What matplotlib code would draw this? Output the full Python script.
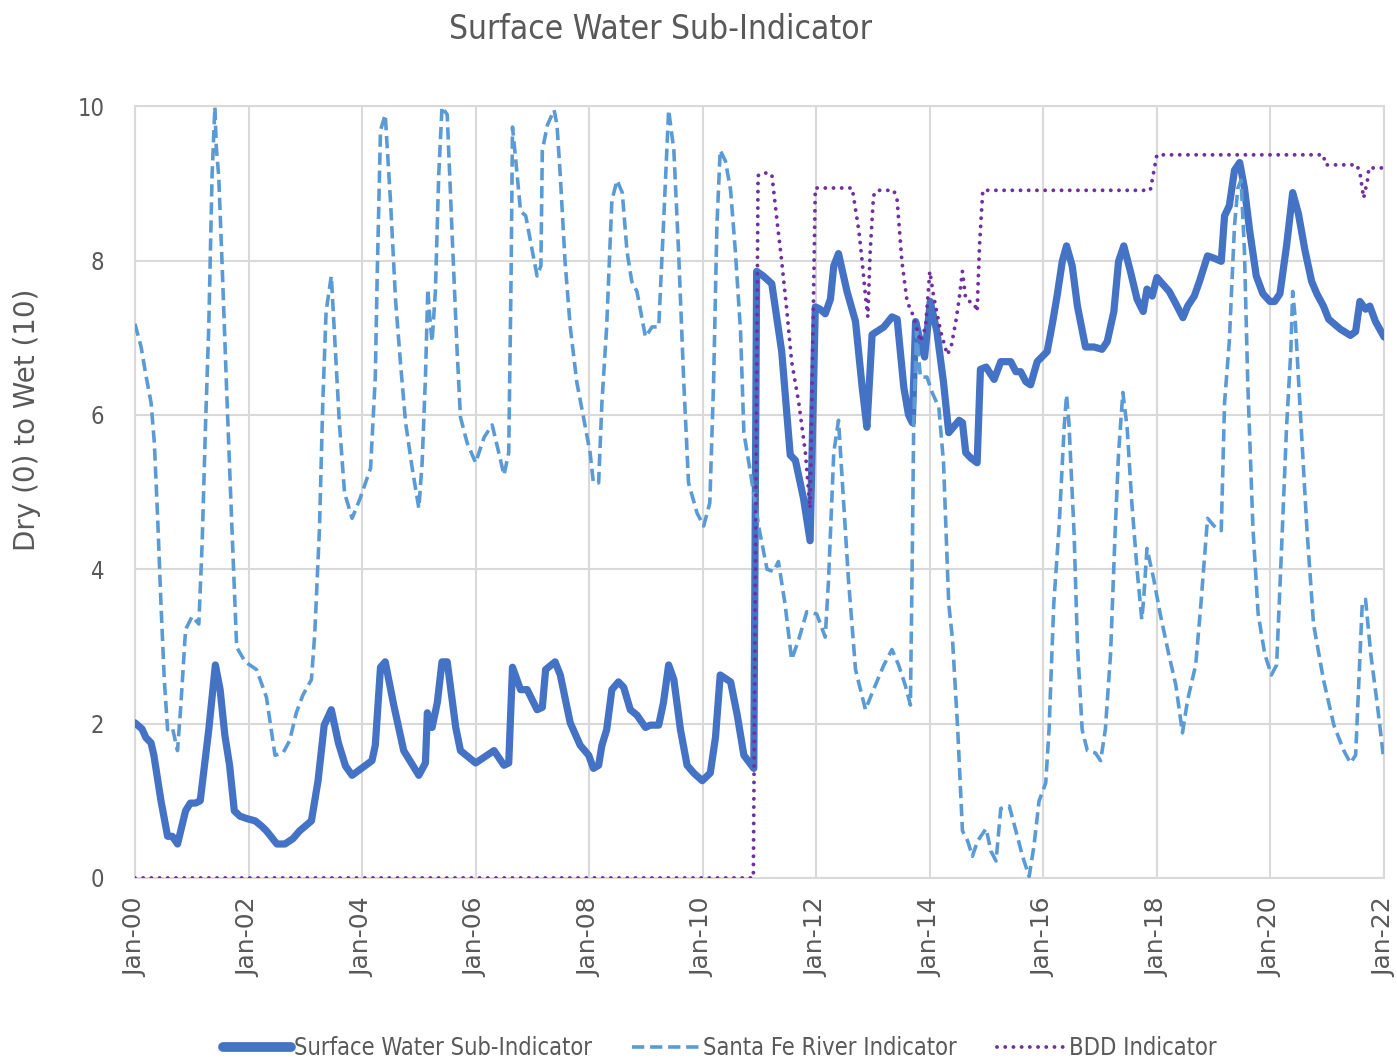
import matplotlib
matplotlib.use("Agg")
import matplotlib.pyplot as plt
import numpy as np

# month index counted from Jan 2000
sw_months = [0, 1.5, 2.3, 3.4, 4, 5.5, 6.9, 7.9, 9, 10.7, 11.7, 12.8, 13.8, 15.6, 17, 18, 19, 20, 21,
             22.2, 23.6, 25.4, 26.8, 27.8, 30, 31.7, 33.4, 34.8, 37.3, 38.7, 40, 41.5, 43, 44.5, 45.9,
             50.1, 50.8, 51.9, 52.9, 54.7, 56.8, 60, 61.4, 61.8, 62.8, 63.9, 64.9, 66, 67.8, 68.8, 72,
             75.9, 78, 79, 79.8, 81.5, 82.9, 85, 86.1, 86.8, 88.8, 89.9, 92, 94.1, 95.9, 96.9, 98, 98.7,
             99.7, 100.8, 102.2, 103.3, 104.7, 106.1, 107.9, 108.9, 110.7, 111.7, 112.8, 113.9, 115.3,
             116.7, 118.1, 119.9, 121.6, 122.7, 123.7, 125.9, 127.3, 128.7, 130.8, 131.4, 132.8, 134.6,
             136.7, 138.5, 139.6, 141.3, 142.7, 143.8, 144.8, 145.9, 147, 147.7, 148.7, 150.5, 152.3,
             153.7, 154.7, 155.8, 158.3, 160, 161.1, 162.5, 163.5, 164.3, 165, 166, 166.9, 168.1, 169.5,
             170.9, 172, 174.2, 174.9, 175.6, 176.7, 178, 178.7, 179.9, 181.6, 183, 185.1, 186.2, 187.2,
             188.3, 189.3, 190.7, 192.8, 193.9, 194.9, 196, 196.9, 198.1, 199.2, 200.9, 202.7, 204.4,
             205.5, 206.9, 207.9, 209, 210.4, 211.8, 213.1, 213.9, 215, 216, 218.6, 220, 221.5, 222.5,
             223.9, 225, 226.7, 228.1, 229.6, 230.3, 231.3, 232.4, 233.5, 234.5, 235.6, 237, 238.4,
             239.9, 240.9, 242, 243.4, 244.7, 245.9, 247.3, 248.7, 249.8, 251.2, 252.3, 254.8, 256.9,
             258, 258.9, 260.1, 261, 262.2, 264]
sw_values = [2.01, 1.93, 1.82, 1.75, 1.59, 1.0, 0.54, 0.54, 0.44, 0.87, 0.97, 0.97, 1.0, 1.92, 2.76, 2.44,
             1.85, 1.46, 0.87, 0.80, 0.77, 0.74, 0.67, 0.61, 0.44, 0.44, 0.51, 0.61, 0.74, 1.26, 1.98,
             2.18, 1.75, 1.45, 1.33, 1.52, 1.72, 2.73, 2.8, 2.24, 1.65, 1.33, 1.49, 2.14, 1.95, 2.27,
             2.8, 2.8, 1.95, 1.65, 1.49, 1.65, 1.46, 1.49, 2.73, 2.44, 2.44, 2.18, 2.21, 2.7, 2.8, 2.63,
             2.01, 1.72, 1.59, 1.42, 1.46, 1.72, 1.92, 2.44, 2.54, 2.47, 2.18, 2.11, 1.95, 1.98, 1.98,
             2.27, 2.76, 2.57, 1.92, 1.46, 1.36, 1.26, 1.36, 1.82, 2.63, 2.54, 2.11, 1.59, 1.42, 7.86,
             7.8, 7.7, 6.82, 5.48, 5.41, 4.92, 4.37, 7.4, 7.37, 7.31, 7.5, 7.93, 8.09, 7.6, 7.21, 6.36,
             5.84, 7.04, 7.14, 7.27, 7.24, 6.36, 6.0, 5.9, 7.21, 6.95, 6.75, 7.47, 7.08, 6.42, 5.77,
             5.93, 5.9, 5.51, 5.44, 5.38, 6.59, 6.62, 6.46, 6.69, 6.69, 6.56, 6.56, 6.43, 6.39, 6.69,
             6.82, 7.18, 7.54, 7.99, 8.19, 7.93, 7.41, 6.88, 6.88, 6.85, 6.95, 7.34, 7.99, 8.19, 7.86,
             7.5, 7.34, 7.63, 7.54, 7.78, 7.6, 7.44, 7.26, 7.41, 7.54, 7.73, 8.06, 8.03, 7.99, 8.58,
             8.71, 9.17, 9.27, 8.94, 8.39, 7.8, 7.57, 7.47, 7.47, 7.57, 8.19, 8.88, 8.61, 8.13, 7.73,
             7.57, 7.41, 7.24, 7.11, 7.03, 7.08, 7.47, 7.37, 7.41, 7.21, 7.01]

sf_months = [0, 1.3, 2.3, 3.4, 4.1, 4.8, 5.5, 6.2, 6.9, 7.9, 9, 9.7, 10.7, 12.1, 13.5, 14.2, 14.9, 15.6,
             16.3, 16.9, 17.2, 17.7, 18.4, 19.4, 20.5, 21.5, 23.3, 25.7, 27.8, 29.6, 31.3, 32.7, 34.1,
             35.5, 37.3, 38, 39, 39.7, 40.4, 41.5, 42.2, 43.2, 44.3, 45.9, 47.6, 49.8, 50.8, 51.2, 51.9,
             52.9, 54, 55.1, 56.1, 57.2, 58.6, 60, 60.7, 61.4, 61.9, 62.3, 62.8, 63.5, 64.2, 64.9, 66,
             67.1, 68.1, 68.8, 70.2, 72, 73.8, 75.5, 76.9, 78, 79, 79.5, 79.8, 80.5, 81.5, 82.6, 84, 85,
             85.8, 86.1, 87.2, 88.6, 89.2, 89.9, 90.9, 92, 93.4, 94.8, 96.2, 96.9, 98, 98.7, 99.7, 100.8,
             101.9, 103, 104, 105, 106.1, 107.9, 109.3, 110.7, 111.7, 112.8, 113.9, 114.9, 116, 117,
             118.8, 120.2, 121.5, 122.3, 123, 123.7, 124.8, 125.9, 126.9, 128, 128.7, 130.1, 132, 133.6,
             135, 136, 137.4, 138.8, 140.3, 142, 144.1, 145.9, 146.6, 147.7, 148.7, 149.8, 150.8, 152.3,
             154.4, 156.1, 158.3, 160, 161.4, 162.8, 163.9, 164.3, 164.6, 165.2, 166, 167.4, 168.5,
             169.9, 170.9, 172, 172.8, 173.9, 174.9, 176, 177, 178.1, 179.9, 180.9, 182, 183, 184.8,
             186.5, 187.6, 189, 190, 191.1, 192.5, 193.2, 194.2, 195.3, 196.4, 196.9, 197.4, 198.5,
             199.2, 200.2, 201.3, 203, 204.1, 205.1, 206.2, 207.2, 207.9, 208.8, 209.7, 210.7, 211.8,
             212.8, 213.2, 213.9, 215.3, 216.7, 218.5, 220, 221.4, 222.5, 224.2, 225.3, 226.7, 228.1,
             229.6, 230.3, 231.3, 232.4, 233.1, 233.8, 234.5, 235.2, 236.3, 237.4, 238.8, 240.2, 241.3,
             242.3, 243.4, 244.3, 244.7, 245.2, 246.2, 247.7, 249.1, 251.2, 253.4, 255.5, 256.9, 258,
             258.7, 259.4, 260.1, 261.2, 262.6, 263.9]
sf_values = [7.18, 6.88, 6.52, 6.16, 5.64, 4.66, 3.55, 2.57, 1.92, 1.95, 1.65, 2.24, 3.22, 3.39, 3.29,
             4.33, 5.84, 7.14, 9.1, 9.99, 9.46, 9.1, 7.99, 6.29, 4.53, 2.99, 2.8, 2.7, 2.34, 1.59, 1.62,
             1.78, 2.14, 2.37, 2.57, 3.16, 4.53, 6.16, 7.34, 7.8, 7.01, 5.9, 4.99, 4.66, 4.92, 5.31,
             6.49, 7.8, 9.69, 9.89, 8.78, 7.47, 6.69, 5.9, 5.31, 4.79, 5.38, 6.49, 7.63, 7.27, 6.95, 7.6,
             9.1, 9.99, 9.89, 8.25, 6.82, 5.97, 5.64, 5.38, 5.71, 5.87, 5.51, 5.22, 5.51, 7.8, 9.73,
             9.29, 8.64, 8.58, 8.12, 7.8, 7.93, 9.43, 9.76, 9.95, 9.76, 9.1, 7.99, 7.14, 6.42, 5.97,
             5.51, 5.12, 5.12, 6.16, 7.14, 8.78, 9.04, 8.88, 8.12, 7.73, 7.6, 7.01, 7.14, 7.14, 8.45,
             9.95, 9.43, 8.12, 6.42, 5.12, 4.73, 4.56, 4.86, 6.42, 8.45, 9.43, 9.29, 8.91, 8.12, 7.08,
             5.77, 5.25, 4.5, 4.0, 3.97, 4.1, 3.55, 2.83, 3.09, 3.45, 3.42, 3.12, 3.87, 5.51, 5.93,
             4.86, 3.87, 2.7, 2.18, 2.44, 2.76, 2.96, 2.76, 2.5, 2.24, 4.2, 5.9, 7.08, 6.49, 6.49, 6.29,
             6.1, 5.38, 3.55, 3.09, 1.92, 0.61, 0.48, 0.28, 0.48, 0.64, 0.35, 0.22, 0.9, 0.93, 0.54,
             0.28, 0.02, 0.41, 1.0, 1.23, 1.92, 3.55, 4.53, 5.84, 6.26, 5.9, 4.46, 3.03, 1.92, 1.65,
             1.62, 1.52, 1.92, 2.9, 4.53, 5.51, 6.29, 5.84, 4.86, 4.0, 3.35, 3.61, 4.27, 3.88, 3.42,
             2.9, 2.5, 1.88, 2.31, 2.76, 3.55, 4.66, 4.56, 4.5, 6.16, 6.95, 8.45, 8.94, 9.04, 8.12,
             6.42, 4.53, 3.42, 2.9, 2.63, 2.76, 4.2, 5.84, 6.82, 7.6, 7.27, 6.16, 4.53, 3.29, 2.57,
             1.98, 1.65, 1.49, 1.59, 2.57, 3.55, 3.61, 2.9, 2.24, 1.56]

bdd_months = [0, 130.7, 131.7, 132.8, 134.6, 135.7, 136.7, 137.8, 138.8, 140.3, 141.7, 142.7, 143.8,
              151.6, 153, 153.7, 154.4, 154.9, 155.4, 156.1, 156.8, 160.4, 161.1, 162.1, 163.2, 164.6,
              166, 167.1, 168, 168.8, 170.3, 171.7, 172.5, 173.5, 174.2, 174.9, 175.6, 176.4, 177.4,
              178, 178.5, 179.2, 214.6, 216, 251.2, 251.6, 258.3, 259, 259.7, 260.5, 260.8, 264]
bdd_values = [0, 0, 9.1, 9.14, 9.12, 8.52, 7.99, 7.34, 6.69, 6.16, 5.51, 4.79, 8.94, 8.94, 8.39, 7.99,
              7.54, 7.27, 8.12, 8.84, 8.91, 8.91, 8.78, 7.99, 7.47, 7.27, 6.95, 7.14, 7.86, 7.54, 7.08,
              6.78, 6.88, 7.21, 7.5, 7.86, 7.5, 7.47, 7.44, 7.34, 8.19, 8.91, 8.91, 9.37, 9.37, 9.24,
              9.24, 9.1, 8.81, 9.04, 9.2, 9.2]

tick_years = list(range(2000, 2023, 2))
tick_labels = [f"Jan-{y % 100:02d}" for y in tick_years]


def to_year(months):
    return 2000 + np.array(months) / 12.0


fig = plt.figure(figsize=(13.97, 10.62), dpi=100)
ax = fig.add_axes([0.0966, 0.1733, 0.8941, 0.7267])

grey = "#595959"
ax.plot(to_year(sw_months), sw_values, color="#4472C4", lw=5.2,
        solid_joinstyle="round", solid_capstyle="round", label="Surface Water Sub-Indicator", zorder=3)
ax.plot(to_year(sf_months), sf_values, color="#5B9BD5", lw=2.6, dashes=(3.4, 1.6),
        label="Santa Fe River Indicator", zorder=4)
ax.plot(to_year(bdd_months), bdd_values, color="#7030A0", lw=2.8, dashes=(0.01, 2.1),
        dash_capstyle="round", label="BDD Indicator", zorder=5)

ax.set_xlim(2000, 2022)
ax.set_ylim(0, 10)
ax.set_xticks(tick_years)
ax.set_xticklabels(tick_labels, rotation=90, fontsize=18, color=grey)
ax.set_yticks(range(0, 11, 2))
ax.set_yticklabels([str(v) for v in range(0, 11, 2)], fontsize=17, color=grey,
                   fontstretch="condensed")
ax.tick_params(axis="y", length=0, pad=22)
ax.tick_params(axis="x", length=0, pad=14)
ax.grid(True, color="#d9d9d9", lw=1.5)
ax.set_axisbelow(True)
for s in ax.spines.values():
    s.set_color("#d9d9d9")
    s.set_linewidth(1.5)

ax.set_ylabel("Dry (0) to Wet (10)", fontsize=20, color=grey)
ax.yaxis.set_label_coords(-0.075, 0.593)

fig.suptitle("Surface Water Sub-Indicator", x=0.473, y=0.988, fontsize=24, color=grey,
             fontfamily="DejaVu Sans", fontstretch="condensed")

leg = fig.legend(loc="lower center", bbox_to_anchor=(0.515, -0.018), ncol=3, frameon=False,
                 handlelength=2.9, columnspacing=1.7, handletextpad=0.12,
                 prop={"family": "DejaVu Sans", "stretch": "condensed", "size": 17})
for t in leg.get_texts():
    t.set_color(grey)
leg.get_lines()[0].set_linewidth(7)

fig.savefig("out.png", dpi=100)
